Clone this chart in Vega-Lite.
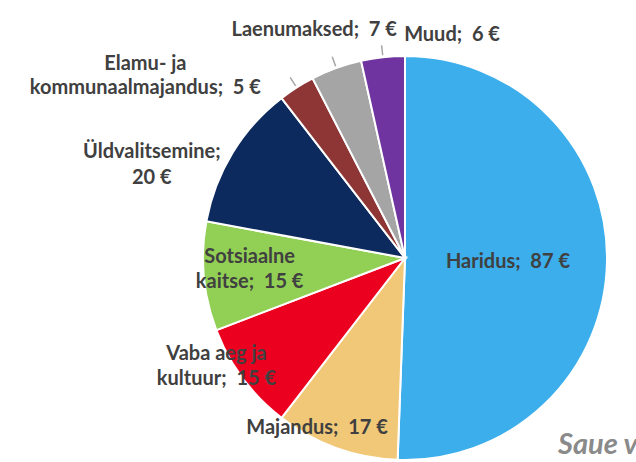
{
  "$schema": "https://vega.github.io/schema/vega-lite/v6.json",
  "width": 404,
  "height": 404,
  "autosize": {"type": "none"},
  "padding": {"left": 203, "top": 56, "right": 29, "bottom": 2},
  "background": "white",
  "config": {"view": {"stroke": null}},
  "title": {"text": "Saue vald", "orient": "bottom", "anchor": "end", "frame": "group", "align": "left", "baseline": "alphabetic", "dx": -49, "dy": -10, "offset": 0, "font": "Lato", "fontStyle": "italic", "fontWeight": "bold", "fontSize": 29, "color": "#8A8A8A"},
  "data": {"values": [
    {"idx": 1, "cat": "Haridus", "value": 87, "label": "Haridus;\u00a0 87 €"},
    {"idx": 2, "cat": "Majandus", "value": 17, "label": "Majandus;\u00a0 17 €"},
    {"idx": 3, "cat": "Vaba aeg ja kultuur", "value": 15, "label": "Vaba aeg ja\nkultuur;\u00a0 15 €"},
    {"idx": 4, "cat": "Sotsiaalne kaitse", "value": 15, "label": "Sotsiaalne\nkaitse;\u00a0 15 €"},
    {"idx": 5, "cat": "Üldvalitsemine", "value": 20, "label": "Üldvalitsemine;\n20 €"},
    {"idx": 6, "cat": "Elamu- ja kommunaalmajandus", "value": 5, "label": "Elamu- ja\nkommunaalmajandus;\u00a0 5 €"},
    {"idx": 7, "cat": "Laenumaksed", "value": 7, "label": "Laenumaksed;\u00a0 7 €"},
    {"idx": 8, "cat": "Muud", "value": 6, "label": "Muud;\u00a0 6 €"}
  ]},
  "encoding": {
    "theta": {"field": "value", "type": "quantitative", "stack": true},
    "order": {"field": "idx", "type": "quantitative"}
  },
  "layer": [
    {
      "mark": {"type": "arc", "stroke": "white", "strokeWidth": 2},
      "encoding": {
        "color": {"field": "cat", "type": "nominal", "legend": null,
          "scale": {"domain": ["Haridus", "Majandus", "Vaba aeg ja kultuur", "Sotsiaalne kaitse", "Üldvalitsemine", "Elamu- ja kommunaalmajandus", "Laenumaksed", "Muud"],
                    "range": ["#3BAEEB", "#F0C878", "#EC0020", "#92CF55", "#0C2A5E", "#8E3535", "#A5A5A5", "#7034A0"]}}
      }
    },
    {
      "transform": [
        {"stack": "value", "groupby": [], "sort": [{"field": "idx", "order": "ascending"}], "as": ["v0", "v1"]},
        {"filter": "datum.idx >= 6"}
      ],
      "mark": {"type": "arc", "radius": 204, "radius2": 214, "padAngle": 1, "fillOpacity": 0, "stroke": "#A6A6A6", "strokeWidth": 1.5},
      "encoding": {
        "theta": {"field": "v0", "type": "quantitative", "stack": null},
        "theta2": {"field": "v1"}
      }
    },
    {
      "mark": {"type": "text", "radius": 103, "dy": 2, "font": "Lato", "fontWeight": "bold", "fontSize": 20, "fill": "#404040", "lineBreak": "\n", "lineHeight": 25},
      "encoding": {"text": {"condition": {"test": "datum.idx === 1", "field": "label"}, "value": ""}}
    },
    {
      "mark": {"type": "text", "radius": 185, "dx": -25, "dy": -4, "font": "Lato", "fontWeight": "bold", "fontSize": 20, "fill": "#404040", "lineBreak": "\n", "lineHeight": 25},
      "encoding": {"text": {"condition": {"test": "datum.idx === 2", "field": "label"}, "value": ""}}
    },
    {
      "mark": {"type": "text", "radius": 220, "dx": -12, "dy": -35, "font": "Lato", "fontWeight": "bold", "fontSize": 20, "fill": "#404040", "lineBreak": "\n", "lineHeight": 25},
      "encoding": {"text": {"condition": {"test": "datum.idx === 3", "field": "label"}, "value": ""}}
    },
    {
      "mark": {"type": "text", "radius": 155, "dx": -1, "dy": -15, "font": "Lato", "fontWeight": "bold", "fontSize": 20, "fill": "#404040", "lineBreak": "\n", "lineHeight": 25},
      "encoding": {"text": {"condition": {"test": "datum.idx === 4", "field": "label"}, "value": ""}}
    },
    {
      "mark": {"type": "text", "radius": 190, "dx": -91, "dy": -7, "font": "Lato", "fontWeight": "bold", "fontSize": 20, "fill": "#404040", "lineBreak": "\n", "lineHeight": 26},
      "encoding": {"text": {"condition": {"test": "datum.idx === 5", "field": "label"}, "value": ""}}
    },
    {
      "mark": {"type": "text", "radius": 210, "dx": -147, "dy": -17, "font": "Lato", "fontWeight": "bold", "fontSize": 20, "fill": "#404040", "lineBreak": "\n", "lineHeight": 24},
      "encoding": {"text": {"condition": {"test": "datum.idx === 6", "field": "label"}, "value": ""}}
    },
    {
      "mark": {"type": "text", "radius": 220, "dx": -16, "dy": -21, "font": "Lato", "fontWeight": "bold", "fontSize": 20, "fill": "#404040", "lineBreak": "\n", "lineHeight": 25},
      "encoding": {"text": {"condition": {"test": "datum.idx === 7", "field": "label"}, "value": ""}}
    },
    {
      "mark": {"type": "text", "radius": 210, "dx": 70, "dy": -14, "font": "Lato", "fontWeight": "bold", "fontSize": 20, "fill": "#404040", "lineBreak": "\n", "lineHeight": 25},
      "encoding": {"text": {"condition": {"test": "datum.idx === 8", "field": "label"}, "value": ""}}
    }
  ]
}
